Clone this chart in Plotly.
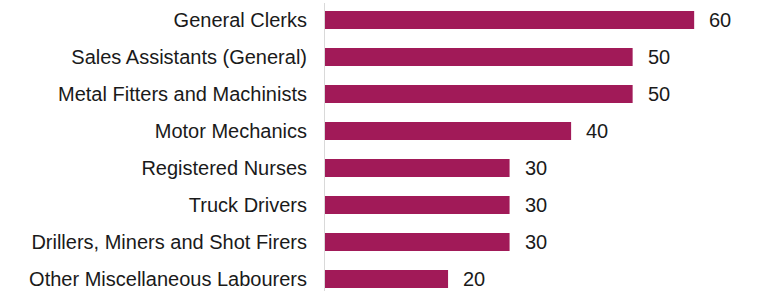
import plotly.graph_objects as go

categories = [
    "General Clerks",
    "Sales Assistants (General)",
    "Metal Fitters and Machinists",
    "Motor Mechanics",
    "Registered Nurses",
    "Truck Drivers",
    "Drillers, Miners and Shot Firers",
    "Other Miscellaneous Labourers",
]
values = [60, 50, 50, 40, 30, 30, 30, 20]

BAR_COLOR = "#A11A58"
FONT = "Liberation Sans, Arial, sans-serif"

fig = go.Figure()
fig.add_trace(go.Bar(
    y=categories,
    x=values,
    orientation="h",
    marker=dict(color=BAR_COLOR, line=dict(width=0)),
    width=0.49,
    hoverinfo="x+y",
))

for c, v in zip(categories, values):
    fig.add_annotation(
        x=v, y=c, xref="x", yref="y",
        text=str(v), showarrow=False,
        xanchor="left", yanchor="middle",
        xshift=13,
        font=dict(family=FONT, size=20, color="#1a1a1a"),
    )

fig.update_layout(
    width=760, height=291,
    margin=dict(l=325, r=0, t=3, b=0, autoexpand=False),
    paper_bgcolor="white",
    plot_bgcolor="white",
    showlegend=False,
    font=dict(family=FONT, size=20, color="#1a1a1a"),
)
fig.update_xaxes(
    range=[0, 70.7],
    visible=False,
    showgrid=False,
    zeroline=False,
)
fig.update_yaxes(
    categoryorder="array",
    categoryarray=categories,
    autorange=False,
    range=[7.324, -0.459],
    showgrid=False,
    zeroline=False,
    showline=True,
    linecolor="#d9d9d9",
    linewidth=1,
    ticks="",
    ticklabelstandoff=13,
    tickfont=dict(family=FONT, size=20, color="#1a1a1a"),
)

fig.write_html(
    "out.html",
    config={"displayModeBar": False},
    post_script="document.body.style.margin='0';document.body.style.padding='0';",
)
